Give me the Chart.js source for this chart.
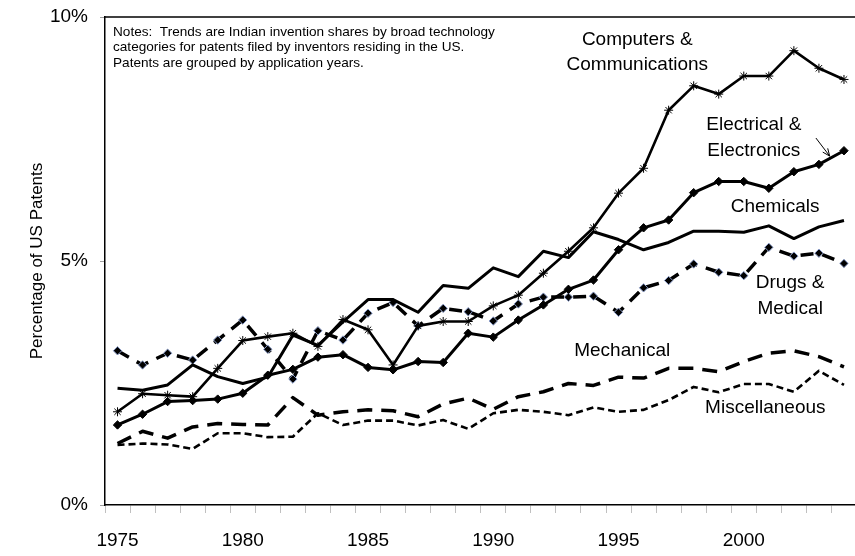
<!DOCTYPE html>
<html><head><meta charset="utf-8">
<script src="https://cdn.jsdelivr.net/npm/chart.js@4.4.0/dist/chart.umd.min.js"></script>
<style>
html,body{margin:0;padding:0;background:#fff;overflow:hidden;width:855px;height:556px}
#wrap{width:855px;height:556px;overflow:hidden;position:relative}
canvas{display:block}
</style></head>
<body><div id="wrap"><canvas id="c" width="862" height="556"></canvas></div>
<script>
const years = ['1975','1976','1977','1978','1979','1980','1981','1982','1983','1984','1985','1986','1987','1988','1989','1990','1991','1992','1993','1994','1995','1996','1997','1998','1999','2000','2001','2002','2003','2004'];
const computers  = [1.91, 2.28, 2.25, 2.22, 2.80, 3.37, 3.45, 3.52, 3.25, 3.80, 3.59, 2.87, 3.67, 3.76, 3.76, 4.08, 4.30, 4.75, 5.20, 5.68, 6.39, 6.90, 8.09, 8.59, 8.42, 8.79, 8.79, 9.31, 8.95, 8.72];
const electrical = [1.64, 1.86, 2.12, 2.14, 2.17, 2.29, 2.66, 2.78, 3.03, 3.08, 2.82, 2.77, 2.94, 2.92, 3.52, 3.44, 3.79, 4.10, 4.42, 4.61, 5.23, 5.68, 5.84, 6.40, 6.63, 6.63, 6.49, 6.83, 6.98, 7.26];
const chemicals  = [2.39, 2.35, 2.46, 2.87, 2.63, 2.49, 2.62, 3.48, 3.27, 3.75, 4.21, 4.21, 3.95, 4.50, 4.44, 4.86, 4.68, 5.20, 5.07, 5.60, 5.44, 5.23, 5.38, 5.61, 5.61, 5.59, 5.72, 5.46, 5.70, 5.83];
const drugs      = [3.16, 2.87, 3.11, 2.97, 3.38, 3.79, 3.19, 2.58, 3.57, 3.38, 3.93, 4.15, 3.67, 4.03, 3.96, 3.77, 4.12, 4.26, 4.26, 4.28, 3.95, 4.45, 4.60, 4.94, 4.77, 4.70, 5.28, 5.10, 5.16, 4.95];
const mechanical = [1.26, 1.51, 1.37, 1.60, 1.67, 1.65, 1.64, 2.20, 1.84, 1.91, 1.95, 1.93, 1.81, 2.07, 2.19, 1.96, 2.22, 2.32, 2.49, 2.45, 2.62, 2.60, 2.80, 2.80, 2.73, 2.94, 3.11, 3.16, 3.04, 2.83];
const misc       = [1.23, 1.26, 1.24, 1.15, 1.47, 1.47, 1.39, 1.40, 1.88, 1.64, 1.73, 1.73, 1.63, 1.74, 1.56, 1.88, 1.95, 1.91, 1.84, 2.00, 1.91, 1.95, 2.15, 2.42, 2.31, 2.48, 2.48, 2.32, 2.75, 2.46];
const yTicks = [0, 5, 10];

const FONT = "'Liberation Sans', Arial, sans-serif";

const notes = [
  'Notes:  Trends are Indian invention shares by broad technology',
  'categories for patents filed by inventors residing in the US.',
  'Patents are grouped by application years.'
];
// series labels in data coordinates (category index, value)
const seriesLabels = [
  {lines:['Computers &','Communications'], x:20.75, y:[9.53, 9.02]},
  {lines:['Electrical &','Electronics'], x:25.4, y:[7.79, 7.25]},
  {lines:['Chemicals'], x:26.25, y:[6.11]},
  {lines:['Drugs &','Medical'], x:26.85, y:[4.55, 4.02]},
  {lines:['Mechanical'], x:20.15, y:[3.16]},
  {lines:['Miscellaneous'], x:25.86, y:[1.99]}
];
const arrow = {x0:27.88, y0:7.52, x1:28.43, y1:7.15};

const decor = {
  id:'decor',
  afterDraw(chart){
    const ctx = chart.ctx, a = chart.chartArea;
    const xs = chart.scales.x, ys = chart.scales.y;
    ctx.save();
    ctx.strokeStyle = '#000'; ctx.lineWidth = 1.5;
    ctx.beginPath(); ctx.moveTo(a.left, a.top); ctx.lineTo(a.right, a.top); ctx.stroke();
    ctx.fillStyle = '#000';
    ctx.font = '13.6px ' + FONT;
    ctx.textAlign = 'left'; ctx.textBaseline = 'middle';
    notes.forEach((t,i)=>ctx.fillText(t, a.left + 8, a.top + 15 + i*15.4));
    ctx.font = '19px ' + FONT;
    ctx.textAlign = 'center';
    seriesLabels.forEach(l=>{
      l.lines.forEach((t,i)=>ctx.fillText(t, xs.getPixelForValue(l.x), ys.getPixelForValue(l.y[i])));
    });
    const x0 = xs.getPixelForValue(arrow.x0), y0 = ys.getPixelForValue(arrow.y0);
    const x1 = xs.getPixelForValue(arrow.x1), y1 = ys.getPixelForValue(arrow.y1);
    ctx.lineWidth = 1; ctx.beginPath(); ctx.moveTo(x0,y0); ctx.lineTo(x1,y1); ctx.stroke();
    const ang = Math.atan2(y1-y0, x1-x0), h = 8;
    ctx.beginPath();
    ctx.moveTo(x1 - h*Math.cos(ang-0.4), y1 - h*Math.sin(ang-0.4));
    ctx.lineTo(x1, y1);
    ctx.lineTo(x1 - h*Math.cos(ang+0.4), y1 - h*Math.sin(ang+0.4));
    ctx.stroke();
    ctx.restore();
  }
};

const base = {fill:false, tension:0, borderColor:'#000', borderCapStyle:'butt', borderJoinStyle:'round'};
new Chart(document.getElementById('c'), {
  type:'line',
  data:{
    labels:years,
    datasets:[
      Object.assign({}, base, {label:'Computers & Communications', data:computers, borderWidth:2.6,
        pointStyle:'star', pointRadius:4.5, pointBorderWidth:1, pointBorderColor:'#000', pointBackgroundColor:'rgba(0,0,0,0)'}),
      Object.assign({}, base, {label:'Electrical & Electronics', data:electrical, borderWidth:3,
        pointStyle:'rectRot', pointRadius:4.2, pointBorderWidth:1, pointBorderColor:'#000', pointBackgroundColor:'#000'}),
      Object.assign({}, base, {label:'Chemicals', data:chemicals, borderWidth:3, pointRadius:0}),
      Object.assign({}, base, {label:'Drugs & Medical', data:drugs, borderWidth:3.5, borderDash:[13,9],
        pointStyle:'rectRot', pointRadius:4.2, pointBorderWidth:1, pointBorderColor:'#8a9cc8', pointBackgroundColor:'#000'}),
      Object.assign({}, base, {label:'Mechanical', data:mechanical, borderWidth:3.5, borderDash:[15,9], pointRadius:0}),
      Object.assign({}, base, {label:'Miscellaneous', data:misc, borderWidth:2.6, borderDash:[7,4], pointRadius:0})
    ]
  },
  options:{
    responsive:false, animation:false, devicePixelRatio:1,
    layout:{padding:{top:17, right:0, left:0, bottom:0}},
    plugins:{legend:{display:false}, tooltip:{enabled:false}},
    scales:{
      x:{type:'category', offset:true,
        grid:{offset:true, drawOnChartArea:false, drawTicks:true, tickLength:8, color:'#c0c0c0', tickColor:'#c0c0c0'},
        border:{display:true, color:'#000', width:1.5},
        ticks:{autoSkip:false, maxRotation:0, minRotation:0, padding:16, color:'#000', font:{family:FONT, size:19},
          callback:function(v,i){ const l = years[i]; return (Number(l)%5===0) ? l : ''; }},
        afterFit:function(s){ s.height = 51; s.paddingLeft = 0; s.paddingRight = 0; }
      },
      y:{min:0, max:10,
        afterBuildTicks:function(s){ s.ticks = yTicks.map(v=>({value:v})); },
        ticks:{padding:12, color:'#000', font:{family:FONT, size:19}, callback:v=>v+'%'},
        grid:{drawOnChartArea:false, drawTicks:true, tickLength:5, color:'#a0a0a0', tickColor:'#a0a0a0'},
        border:{display:true, color:'#000', width:1.5},
        title:{display:true, text:'Percentage of US Patents', color:'#000', font:{family:FONT, size:17}, padding:{top:27, bottom:0}},
        afterFit:function(s){ s.width = 105; s.paddingTop = 0; s.paddingBottom = 0; }
      }
    }
  },
  plugins:[decor]
});
</script>
</body></html>
